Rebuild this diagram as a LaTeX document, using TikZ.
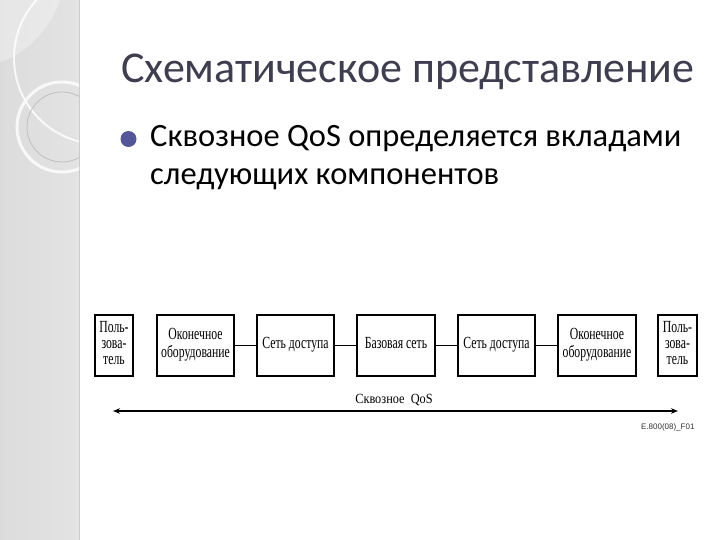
\documentclass[tikz,border=0pt]{standalone}
\usepackage{fontspec}
\setmainfont{Carlito}
\newfontfamily\diagfont[FakeStretch=0.69]{Liberation Serif}
\newfontfamily\qosfont[FakeStretch=0.88]{Liberation Serif}
\newfontfamily\smallfont{Liberation Sans}
\usetikzlibrary{arrows.meta}
\definecolor{titlecol}{HTML}{3E3E50}
\definecolor{bulletcol}{HTML}{55559A}
\definecolor{stripcol}{HTML}{DCDCDC}
\tikzset{
  comp/.style={draw, line width=2pt, minimum height=61pt, inner sep=1pt, align=center,
    font=\diagfont\fontsize{17}{16}\selectfont},
  link/.style={line width=1.3pt},
  deco/.style={draw=white, line width=2pt, opacity=0.8}
}
\begin{document}
\begin{tikzpicture}[x=1pt,y=-1pt]
\useasboundingbox (0,0) rectangle (720,540);
\fill[white] (0,0) rectangle (720,540);
% left strip
\fill[left color=stripcol, right color=stripcol!80!white] (0,0) rectangle (79,540);
\draw[gray!40, line width=0.6pt] (79,0) -- (79,540);
\begin{scope}
\clip (0,0) rectangle (79,540);
\fill[white, opacity=0.3] (0,0) -- (0,62) .. controls (25,55) and (50,30) .. (60,0) -- cycle;
\draw[deco] (100,58) circle (86);
\draw[white, line width=3pt, opacity=0.8] (62,127) circle (45);
\draw[gray!50, line width=0.8pt] (62,127) circle (35);
\end{scope}
% title
\node[anchor=base west, inner sep=0, text=titlecol, font=\fontsize{44}{46}\selectfont] (title) at (121,83) {Схематическое представление};
% bullet
\node[circle, fill=bulletcol, minimum size=16pt, inner sep=0] (bul) at (128.5,139) {};
\node[anchor=base west, inner sep=0, font=\fontsize{32.5}{38}\selectfont] (txt1) at (150,147) {Сквозное QoS определяется вкладами};
\node[anchor=base west, inner sep=0, font=\fontsize{32.5}{38}\selectfont] (txt2) at (150,185) {следующих компонентов};
% diagram
\node[comp, minimum width=38pt] (u1) at (114,345.5) {\strut Поль-\\\strut зова-\\\strut тель};
\node[comp, minimum width=77pt] (t1) at (195.5,345.5) {\strut Оконечное\\\strut оборудование};
\node[comp, minimum width=77pt] (a1) at (295.5,345.5) {\strut Сеть доступа};
\node[comp, minimum width=78pt] (core) at (396,345.5) {\strut Базовая сеть};
\node[comp, minimum width=77pt] (a2) at (496.5,345.5) {\strut Сеть доступа};
\node[comp, minimum width=78pt] (t2) at (597,345.5) {\strut Оконечное\\\strut оборудование};
\node[comp, minimum width=39pt] (u2) at (677.5,345.5) {\strut Поль-\\\strut зова-\\\strut тель};
\draw[link] (t1) -- (a1);
\draw[link] (a1) -- (core);
\draw[link] (core) -- (a2);
\draw[link] (a2) -- (t2);
\coordinate (l) at (113,411);
\coordinate (r) at (678,411);
\draw[line width=1.3pt, {Stealth[length=7pt,width=5.5pt]}-{Stealth[length=7pt,width=5.5pt]}] (l) -- (r);
\node[anchor=base, inner sep=0, font=\qosfont\fontsize{14}{15}\selectfont] (qos) at (394,403) {Сквозное\ \ QoS};
\node[anchor=east, font=\smallfont\fontsize{8}{9}\selectfont, text=black!80] (code) at (698,427) {E.800(08)\_F01};
\end{tikzpicture}
\end{document}
